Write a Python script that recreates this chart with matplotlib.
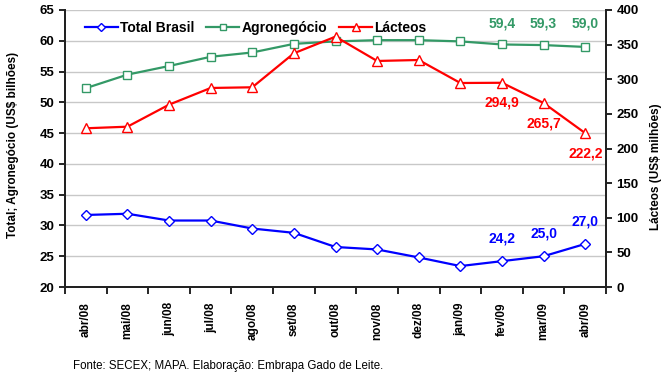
import matplotlib
matplotlib.use("Agg")
import matplotlib.pyplot as plt

plt.rcParams['font.family'] = ['Liberation Sans', 'DejaVu Sans']

months = ["abr/08", "mai/08", "jun/08", "jul/08", "ago/08", "set/08", "out/08",
          "nov/08", "dez/08", "jan/09", "fev/09", "mar/09", "abr/09"]
total_brasil = [31.7, 31.9, 30.8, 30.8, 29.5, 28.8, 26.5, 26.1, 24.8, 23.4, 24.2, 25.0, 27.0]
agronegocio = [52.3, 54.5, 55.9, 57.4, 58.1, 59.5, 59.9, 60.1, 60.1, 59.9, 59.4, 59.3, 59.0]
lacteos = [229.2, 231.5, 263.3, 287.4, 288.4, 337.5, 361.5, 326.4, 327.8, 294.6, 294.9, 265.7, 222.2]

lbl_total = {10: "24,2", 11: "25,0", 12: "27,0"}
lbl_agro = {10: "59,4", 11: "59,3", 12: "59,0"}
lbl_lact = {10: "294,9", 11: "265,7", 12: "222,2"}

blue = "#0000FF"
green = "#339966"
red = "#FF0000"

fig = plt.figure(figsize=(6.62, 3.76), dpi=100)
ax = fig.add_axes([65/662, 1-287/376, (606-65)/662, (287-10)/376])
ax2 = ax.twinx()

x = list(range(len(months)))
l1, = ax.plot(x, total_brasil, color=blue, lw=1.6, marker="D", ms=5,
              mfc="white", mec=blue, mew=1.0, label="Total Brasil")
l2, = ax.plot(x, agronegocio, color=green, lw=1.6, marker="s", ms=5.5,
              mfc="white", mec=green, mew=1.0, label="Agronegócio")
l3, = ax2.plot(x, lacteos, color=red, lw=1.6, marker="^", ms=7,
               mfc="white", mec=red, mew=1.0, label="Lácteos")

ax.set_xlim(-0.5, len(months) - 0.5)
ax.set_ylim(20, 65)
ax.set_yticks(range(20, 66, 5))
ax2.set_ylim(0, 400)
ax2.set_yticks(range(0, 401, 50))

ax.set_xticks(x)
ax.set_xticklabels(months, rotation=90, fontsize=8.5, fontweight="bold")
ax.set_xticks([i - 0.5 for i in range(len(months) + 1)], minor=True)
ax.tick_params(axis="x", which="major", length=0, pad=11)
ax.tick_params(axis="x", which="minor", length=5, width=1.2, direction="out")
ax.tick_params(axis="y", length=4, width=1.2, labelsize=9.5)
ax2.tick_params(axis="y", length=4, width=1.2, labelsize=9.5)
for t in ax.get_yticklabels() + ax2.get_yticklabels():
    t.set_fontweight("bold")

ax.grid(axis="y", color="#C8C8C8", lw=1.0)
ax.set_axisbelow(True)
for a in (ax, ax2):
    a.spines["top"].set_visible(False)
    for s in ("left", "right", "bottom"):
        a.spines[s].set_linewidth(1.4)
        a.spines[s].set_color("#222222")

fig.text(13/662, 1-145/376, "Total; Agronegócio (US$ bilhões)", rotation=90,
         fontsize=8.5, fontweight="bold", ha="center", va="center")
fig.text(656/662, 1-167/376, "Lácteos (US$ milhões)", rotation=90,
         fontsize=8.5, fontweight="bold", ha="center", va="center")

for i, s in lbl_total.items():
    ax.annotate(s, (i, total_brasil[i]), xytext=(0, 11), textcoords="offset points",
                ha="center", va="bottom", color=blue, fontsize=10, fontweight="bold")
for i, s in lbl_agro.items():
    ax.annotate(s, (i, 65), xytext=(0, -10), textcoords="offset points",
                ha="center", va="center", color=green, fontsize=10, fontweight="bold")
for i, s in lbl_lact.items():
    ax2.annotate(s, (i, lacteos[i]), xytext=(0, -9.5), textcoords="offset points",
                 ha="center", va="top", color=red, fontsize=10, fontweight="bold")

leg = ax2.legend(handles=[l1, l2, l3], loc="upper left", bbox_to_anchor=(0.013, 1.006),
                 ncol=3, frameon=False, handlelength=2.4, columnspacing=0.85,
                 handletextpad=0.15, markerscale=0.8, prop={"size": 10, "weight": "bold"})

fig.text(73/662, 1-366/376, "Fonte: SECEX; MAPA. Elaboração: Embrapa Gado de Leite.",
         fontsize=8.3, ha="left", va="center")

fig.savefig("out.png", dpi=100)
